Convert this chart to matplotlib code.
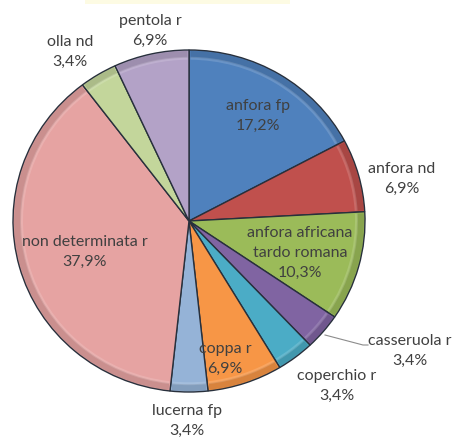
import matplotlib
matplotlib.use("Agg")
import matplotlib.pyplot as plt
from matplotlib.patches import Rectangle, Wedge

categories = ["anfora fp", "anfora nd", "anfora africana\ntardo romana", "casseruola r",
              "coperchio r", "coppa r", "lucerna fp", "non determinata r", "olla nd", "pentola r"]
counts = [5, 2, 3, 1, 1, 2, 1, 11, 1, 2]
colors = ["#4f81bd", "#c0504d", "#9bbb59", "#8064a2", "#4bacc6",
          "#f79646", "#95b3d7", "#e6a3a2", "#c3d69b", "#b3a2c7"]

W, H = 454, 440
fig = plt.figure(figsize=(W / 100, H / 100), dpi=100)
ax = fig.add_axes([0, 0, 1, 1])

RX, RY = 176, 171
k = RX / RY
cx, cy, R = 189, (H - 221) * k, RX
wedges, _ = ax.pie(counts, colors=colors, startangle=90, counterclock=False,
                   center=(cx, cy), radius=R, frame=True,
                   wedgeprops=dict(edgecolor="#28303c", linewidth=1.0))

# bevel-like shading along rims
for w in wedges:
    ax.add_patch(Wedge((cx, cy), R - 1, w.theta1 + 0.5, w.theta2 - 0.5, width=7,
                       facecolor="black", alpha=0.12, edgecolor="none"))
    ax.add_patch(Wedge((cx, cy), R - 7, w.theta1 + 0.5, w.theta2 - 0.5, width=3,
                       facecolor="white", alpha=0.15, edgecolor="none"))
ax.set_aspect("auto")
ax.set_xlim(0, W)
ax.set_ylim(0, H * k)
ax.axis("off")

# overlay axes in pixel coordinates for labels
tx = fig.add_axes([0, 0, 1, 1])
tx.set_xlim(0, W)
tx.set_ylim(H, 0)
tx.axis("off")

# pale header box
fig.patches.append(Rectangle((85 / W, 1 - 4 / H), 205 / W, 4 / H, transform=fig.transFigure,
                             facecolor="#fdfbe3", edgecolor="none"))

total = sum(counts)
pos = [(258, 116), (402, 179), (300, 253), (410, 351), (337, 386),
       (225, 359), (187, 421), (85, 252), (70, 52), (150, 31)]
for cat, c, (x, y) in zip(categories, counts, pos):
    pct = f"{c / total * 100:.1f}%".replace(".", ",")
    tx.text(x, y, f"{cat}\n{pct}", ha="center", va="center", fontsize=11.5,
            family=["Lato", "DejaVu Sans"], color="#404040", linespacing=1.55)

# leader line for casseruola r
tx.plot([325, 363, 368], [335, 345, 345], color="#8c8c8c", lw=0.8)

fig.savefig("out.png", dpi=100)
